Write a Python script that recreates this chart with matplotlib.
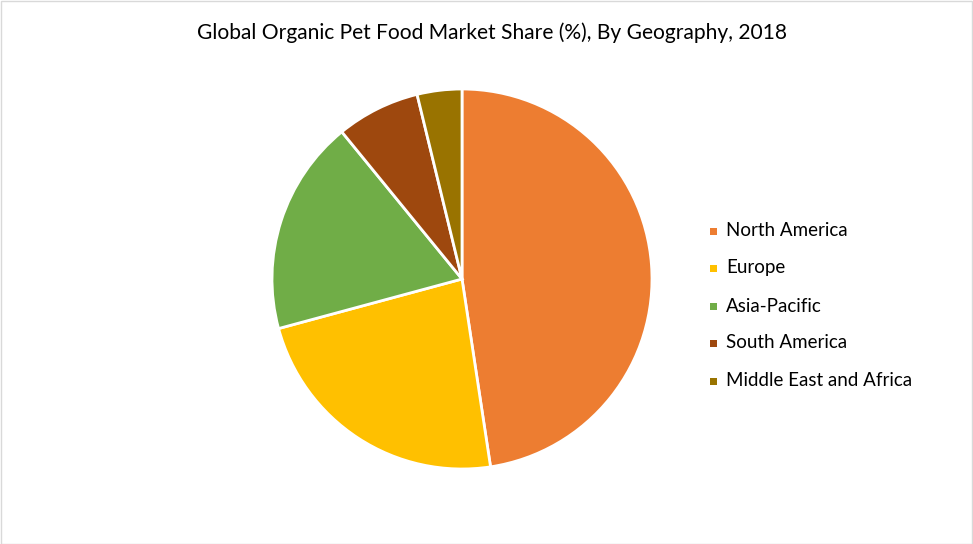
import matplotlib
matplotlib.use('Agg')
import matplotlib.pyplot as plt
from matplotlib.patches import Rectangle

# Data
regions = ['North America', 'Europe', 'Asia-Pacific', 'South America', 'Middle East and Africa']
shares = [47.6, 23.2, 18.3, 7.1, 3.8]
colors = ['#ED7D31', '#FFC000', '#70AD47', '#9E480E', '#997300']
title = 'Global Organic Pet Food Market Share (%), By Geography, 2018'

plt.rcParams['font.family'] = ['Lato', 'DejaVu Sans']

W, H = 973, 544
fig = plt.figure(figsize=(W / 100, H / 100), dpi=100)

# outer border
fig.patches.append(Rectangle((0.5 / W, 0.5 / H), 1 - 1.5 / W, 1 - 1.5 / H,
                             transform=fig.transFigure, fill=False,
                             edgecolor='#D9D9D9', linewidth=1))

fig.text(492 / W, 1 - 33 / H, title, ha='center', va='center', fontsize=15.1, color='#000000')

# pie: center (462, 279), radius 190 px
cx, cy, r = 462, 279, 190
ax = fig.add_axes([(cx - r) / W, (H - cy - r) / H, 2 * r / W, 2 * r / H])
wedges, _ = ax.pie(shares, colors=colors, startangle=90, counterclock=False,
                   wedgeprops=dict(edgecolor='white', linewidth=2))
ax.set_xlim(-1.0, 1.0)
ax.set_ylim(-1.0, 1.0)
ax.set_aspect('equal')

# legend
leg_y = [231, 268, 306, 343, 381]
for name, col, y in zip(regions, colors, leg_y):
    fig.patches.append(Rectangle((710 / W, 1 - (y + 3.5) / H), 7 / W, 7 / H,
                                 transform=fig.transFigure, facecolor=col, edgecolor='none'))
    fig.text(726 / W, 1 - y / H, name, ha='left', va='center', fontsize=13.5, color='#000000')

fig.savefig('out.png', dpi=100)
